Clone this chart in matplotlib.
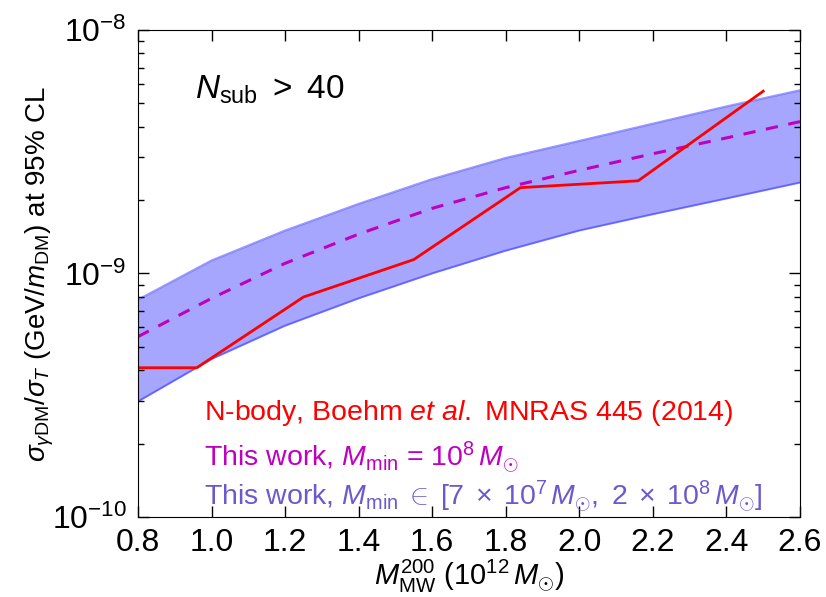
import matplotlib
matplotlib.use('Agg')
import matplotlib.pyplot as plt

plt.rcParams['font.family'] = ['Liberation Sans', 'DejaVu Sans']
plt.rcParams['mathtext.fontset'] = 'custom'
plt.rcParams['mathtext.rm'] = 'Liberation Sans'
plt.rcParams['mathtext.it'] = 'Liberation Sans:italic'
plt.rcParams['mathtext.bf'] = 'Liberation Sans:bold'

# milky way halo mass (10^12 Msun)
mass = [0.8, 1.0, 1.2, 1.4, 1.6, 1.8, 2.0, 2.2, 2.4, 2.6]
band_upper = [7.8e-10, 1.13e-9, 1.50e-9, 1.93e-9, 2.44e-9, 2.98e-9, 3.50e-9, 4.12e-9, 4.85e-9, 5.65e-9]
band_lower = [2.98e-10, 4.45e-10, 6.1e-10, 7.9e-10, 1.0e-9, 1.24e-9, 1.50e-9, 1.75e-9, 2.03e-9, 2.36e-9]
this_work = [5.5e-10, 7.9e-10, 1.10e-9, 1.45e-9, 1.85e-9, 2.25e-9, 2.65e-9, 3.10e-9, 3.60e-9, 4.20e-9]

# n-body result (Boehm et al. 2014)
nbody_mass = [0.8, 0.96, 1.25, 1.55, 1.84, 2.16, 2.5]
nbody_sigma = [4.1e-10, 4.1e-10, 8.0e-10, 1.14e-9, 2.25e-9, 2.40e-9, 5.6e-9]

fig = plt.figure(figsize=(8.26, 5.97), dpi=100)
ax = fig.add_axes([0.167, 0.134, 0.8015, 0.816])

ax.fill_between(mass, band_lower, band_upper, color='blue', alpha=0.35, lw=0)
ax.plot(mass, band_upper, color='blue', alpha=0.4, lw=1.5)
ax.plot(mass, band_lower, color='blue', alpha=0.4, lw=1.5)
ax.plot(mass, this_work, color='m', lw=2.2, dashes=(4, 3.5))
ax.plot(nbody_mass, nbody_sigma, color='r', lw=2)

ax.set_yscale('log')
ax.set_xlim(0.8, 2.6)
ax.set_ylim(1e-10, 1e-8)
ax.set_xticks([0.8, 1.0, 1.2, 1.4, 1.6, 1.8, 2.0, 2.2, 2.4, 2.6])
ax.set_xticklabels(['0.8', '1.0', '1.2', '1.4', '1.6', '1.8', '2.0', '2.2', '2.4', '2.6'])
ax.tick_params(which='both', direction='in', top=True, right=True, labelsize=23)
ax.tick_params(which='major', length=8, width=1, pad=8)
ax.tick_params(which='minor', length=4, width=1)
ax.tick_params(axis='x', which='minor', bottom=False, top=False)

ax.set_xlabel(r'$M^{200}_{\rm MW}$ (10$^{12}\,M_{\odot}$)', fontsize=21, labelpad=0)
ax.set_ylabel(r'$\sigma_{\gamma{\rm DM}}/\sigma_T$ (GeV$/m_{\rm DM}$) at 95% CL', fontsize=20, labelpad=-3)

ax.text(0.086, 0.91, r'$N_{\rm sub}\ >\ 40$', transform=ax.transAxes, fontsize=24, va='top')
ax.text(0.1, 0.2, r'N-body, Boehm $et\ al.$ MNRAS 445 (2014)', transform=ax.transAxes,
        fontsize=20.5, color='r', va='baseline')
ax.text(0.1, 0.105, r'This work, $M_{\rm min}$ = 10$^8\,M_{\odot}$', transform=ax.transAxes,
        fontsize=20.5, color='m', va='baseline')
ax.text(0.1, 0.025,
        r'This work, $M_{\rm min}\;\in\;[7\;\times\;10^7\,M_{\odot},\ 2\;\times\;10^8\,M_{\odot}]$',
        transform=ax.transAxes, fontsize=20.5, color='#6a5acd', va='baseline')

fig.savefig('out.png', dpi=100)
